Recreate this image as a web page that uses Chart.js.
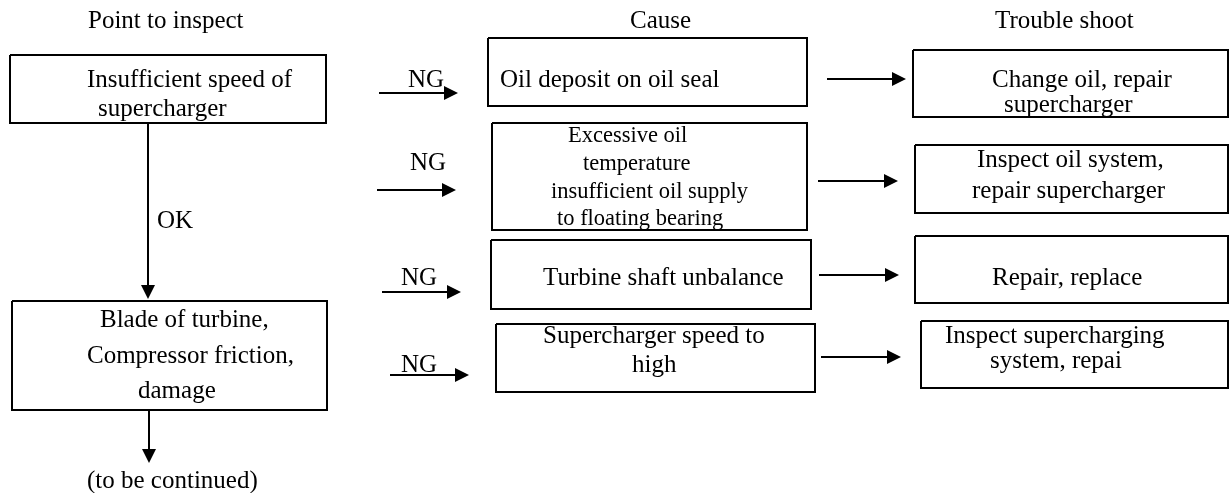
<!DOCTYPE html>
<html>
<head>
<meta charset="utf-8">
<script src="https://cdn.jsdelivr.net/npm/chart.js@4/dist/chart.umd.min.js"></script>
<style>
  html, body { margin: 0; padding: 0; background: #fff; }
  #wrap { width: 1230px; height: 493px; position: relative; }
</style>
</head>
<body>
<div id="wrap"><canvas id="flowChart"></canvas></div>
<script>
// column headers
const headers = ["Point to inspect", "Cause", "Trouble shoot"];
const headerX = [88, 630, 995];
const headerY = 28;

// left column: points to inspect
const inspectText = [
    ["Insufficient speed of", "supercharger"],
    ["Blade of turbine,", "Compressor friction,", "damage"]
];
const inspectBoxes = [[10, 55, 326, 123], [12, 301, 327, 410]];
const inspectTextX = [[87, 98], [100, 87, 138]];
const inspectTextY = [[87, 116], [327, 363, 398]];

// middle column: causes
const causeText = [
    ["Oil deposit on oil seal"],
    ["Excessive oil", "temperature", "insufficient oil supply", "to floating bearing"],
    ["Turbine shaft unbalance"],
    ["Supercharger speed to", "high"]
];
const causeBoxes = [[488, 38, 807, 106], [492, 123, 807, 230], [491, 240, 811, 309], [496, 324, 815, 392]];
const causeTextX = [[500], [568, 583, 551, 557], [543], [543, 632]];
const causeTextY = [[87], [142, 170, 198, 225], [285], [343, 372]];

// right column: trouble shooting
const fixText = [
    ["Change oil, repair", "supercharger"],
    ["Inspect oil system,", "repair supercharger"],
    ["Repair, replace"],
    ["Inspect supercharging", "system, repai"]
];
const fixBoxes = [[913, 50, 1228, 117], [915, 145, 1228, 213], [915, 236, 1228, 303], [921, 321, 1228, 388]];
const fixTextX = [[992, 1004], [977, 972], [992], [945, 990]];
const fixTextY = [[87, 112], [167, 198], [285], [343, 368]];

// NG arrows into the causes
const ngLabel = "NG";
const ngLabelX = [408, 410, 401, 401];
const ngLabelY = [87, 170, 285, 372];
const ngArrows = [[379, 458, 93], [377, 456, 190], [382, 461, 292], [390, 469, 375]];

// arrows from cause to trouble shoot
const fixArrows = [[827, 906, 79], [818, 898, 181], [819, 899, 275], [821, 901, 357]];

// vertical arrows in the left column
const downArrows = [[148, 123, 299], [149, 410, 463]];
const okLabel = "OK";
const okPos = [157, 228];
const footer = "(to be continued)";
const footerPos = [87, 488];

const ink = "#000";
const serif = "'Liberation Serif', 'Times New Roman', serif";

function boxPath(b) {
    return [
        { x: b[0], y: b[1] }, { x: b[2], y: b[1] },
        { x: b[2], y: b[3] }, { x: b[0], y: b[3] }, { x: b[0], y: b[1] }
    ];
}

const datasets = [];
[...inspectBoxes, ...causeBoxes, ...fixBoxes].forEach(b => {
    datasets.push({ data: boxPath(b) });
});
[...ngArrows, ...fixArrows].forEach(a => {
    datasets.push({ data: [{ x: a[0], y: a[2] }, { x: a[1] - 8, y: a[2] }] });
});
downArrows.forEach(a => {
    datasets.push({ data: [{ x: a[0], y: a[1] }, { x: a[0], y: a[2] - 8 }] });
});

// arrow heads and all text are drawn through the scales
const labelsPlugin = {
    id: "flowLabels",
    afterDatasetsDraw(chart) {
        const ctx = chart.ctx;
        const xs = chart.scales.x;
        const ys = chart.scales.y;
        const px = v => xs.getPixelForValue(v);
        const py = v => ys.getPixelForValue(v);

        ctx.save();
        ctx.fillStyle = ink;

        // heads
        [...ngArrows, ...fixArrows].forEach(a => {
            const tx = px(a[1]), ty = py(a[2]);
            ctx.beginPath();
            ctx.moveTo(tx, ty);
            ctx.lineTo(tx - 14, ty - 7);
            ctx.lineTo(tx - 14, ty + 7);
            ctx.closePath();
            ctx.fill();
        });
        downArrows.forEach(a => {
            const tx = px(a[0]), ty = py(a[2]);
            ctx.beginPath();
            ctx.moveTo(tx, ty);
            ctx.lineTo(tx - 7, ty - 14);
            ctx.lineTo(tx + 7, ty - 14);
            ctx.closePath();
            ctx.fill();
        });

        ctx.textAlign = "left";
        ctx.textBaseline = "alphabetic";
        ctx.font = "25px " + serif;

        headers.forEach((h, i) => ctx.fillText(h, px(headerX[i]), py(headerY)));

        const drawGroup = (texts, xsArr, ysArr, sizeFor) => {
            texts.forEach((lines, i) => {
                ctx.font = sizeFor(i) + "px " + serif;
                lines.forEach((t, j) => ctx.fillText(t, px(xsArr[i][j]), py(ysArr[i][j])));
            });
        };
        drawGroup(inspectText, inspectTextX, inspectTextY, () => 25);
        drawGroup(causeText, causeTextX, causeTextY, i => (i === 1 ? 22.5 : 25));
        drawGroup(fixText, fixTextX, fixTextY, () => 25);

        ctx.font = "25px " + serif;
        ngLabelX.forEach((x, i) => ctx.fillText(ngLabel, px(x), py(ngLabelY[i])));
        ctx.fillText(okLabel, px(okPos[0]), py(okPos[1]));
        ctx.fillText(footer, px(footerPos[0]), py(footerPos[1]));
        ctx.restore();
    }
};

new Chart(document.getElementById("flowChart"), {
    type: "scatter",
    data: { datasets: datasets },
    options: {
        responsive: true,
        maintainAspectRatio: false,
        animation: false,
        events: [],
        layout: { padding: 0 },
        elements: {
            line: { borderColor: ink, borderWidth: 2, fill: false, tension: 0 },
            point: { radius: 0 }
        },
        datasets: {
            scatter: { showLine: true, clip: false, borderColor: ink, borderWidth: 2, pointRadius: 0 }
        },
        plugins: {
            legend: { display: false },
            tooltip: { enabled: false }
        },
        scales: {
            x: { type: "linear", min: 0, max: 1230, display: false },
            y: { type: "linear", min: 0, max: 493, reverse: true, display: false }
        }
    },
    plugins: [labelsPlugin]
});
</script>
</body>
</html>
